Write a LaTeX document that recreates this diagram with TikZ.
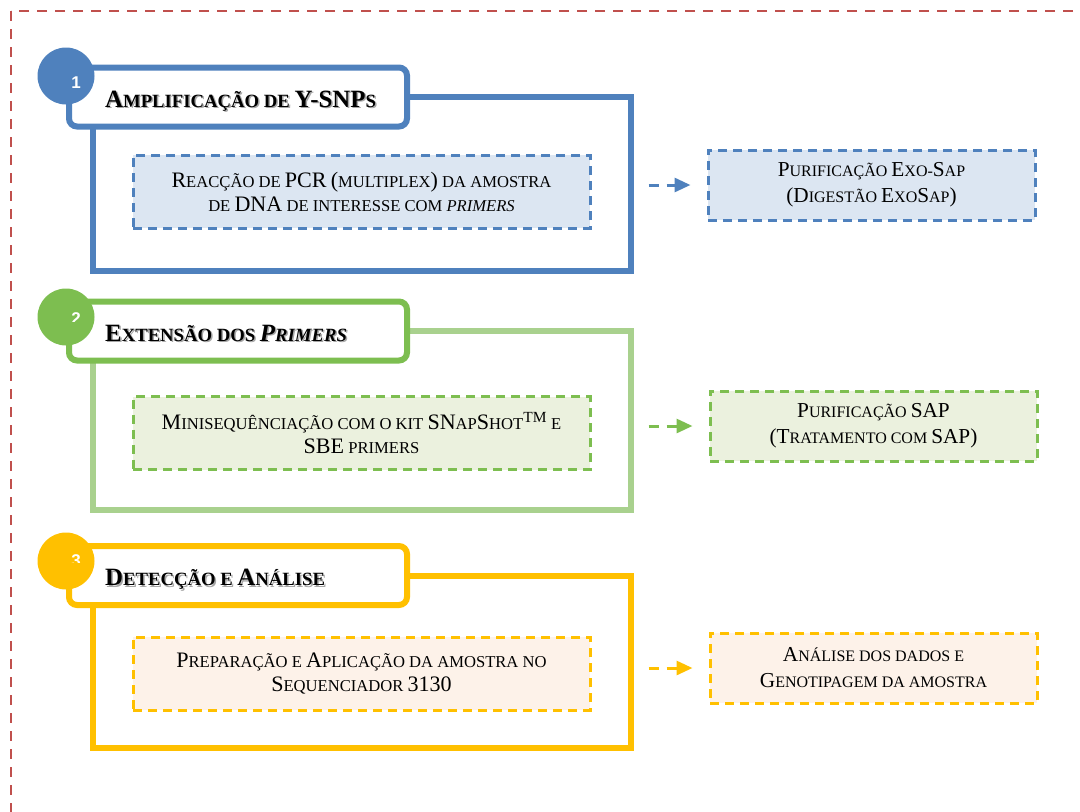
\documentclass[tikz,border=0pt]{standalone}
\usepackage{fontspec}
\setmainfont{Liberation Serif}
\newfontfamily\digitfont{Liberation Sans}
\usetikzlibrary{arrows.meta,positioning,calc}

\definecolor{blueA}{RGB}{79,129,189}
\definecolor{blueF}{RGB}{220,230,242}
\definecolor{greenA}{RGB}{125,190,80}
\definecolor{greenL}{RGB}{169,209,142}
\definecolor{greenF}{RGB}{235,241,222}
\definecolor{yellowA}{RGB}{255,192,0}
\definecolor{yellowF}{RGB}{253,242,233}
\definecolor{redA}{RGB}{192,80,77}

% enlarged capitals for the small-caps look
\makeatletter
\newdimen\capsz
\newcommand{\Cp}[1]{{\capsz=\f@size pt\capsz=1.33\capsz\fontsize{\the\capsz}{\the\capsz}\selectfont #1}}
\makeatother

\begin{document}
\begin{tikzpicture}[x=1pt, y=-1pt,
  titlebox/.style={draw, line width=6pt, rounded corners=8pt, fill=white, minimum width=338pt, minimum height=59pt},
  titletext/.style={font=\bfseries\fontsize{18.7}{20}\selectfont, anchor=base west, inner sep=0pt},
  stepbox/.style={draw, line width=3pt, dash pattern=on 9pt off 6pt, minimum width=457pt, minimum height=73pt, align=center, font=\fontsize{16.6}{24}\selectfont},
  sidebox/.style={stepbox, minimum width=327pt, minimum height=70pt, font=\fontsize{16}{26}\selectfont},
  flow/.style={line width=3pt, dash pattern=on 10pt off 8pt, -{Triangle[length=16pt,width=14pt]}, shorten <=57pt, shorten >=16pt},
  numdot/.style={circle, minimum size=57pt, inner sep=0pt},
  numtext/.style={white, font=\digitfont\bfseries\fontsize{17}{17}\selectfont}
]
\useasboundingbox (0,0) rectangle (1080,812);
\begin{scope}
  \clip (0,0) rectangle (1080,812);
  \draw[redA, line width=2pt, dash pattern=on 10pt off 8pt] (11,11) rectangle (1100,830);
\end{scope}

% the three stages
\foreach \i/\cy/\dy/\ty/\fb/\col/\fcol/\clipy/\ttl in {
  1/76/83/97/271/blueA/blueA/200/{\Cp{A}MPLIFICAÇÃO DE \Cp{Y-SNP}S},
  2/317/319/331/510/greenA/greenL/321/{\Cp{E}XTENSÃO DOS \textit{\Cp{P}RIMERS}},
  3/561/561/575.5/748/yellowA/yellowA/562/{\Cp{D}ETECÇÃO E \Cp{A}NÁLISE}} {
  \draw[line width=6pt, \fcol] (93,\ty) rectangle (631,\fb);
  \node[titlebox, draw=\col] (tb\i) at (238,\ty) {};
  \node[titletext, black!35] at ([xshift=40.5pt,yshift=-11.5pt]tb\i.west) {\ttl};
  \node[titletext] at ([xshift=39pt,yshift=-10pt]tb\i.west) {\ttl};
  \node[numdot, fill=\col] (c\i) at (66,\cy) {};
  \begin{scope}
    \clip (30,\cy-40) rectangle (110,\clipy);
    \node[numtext] at (76,\dy) {\i};
  \end{scope}
}

% stage boxes
\node[stepbox, draw=blueA, fill=blueF] (pcr) at (361.5,191.5)
  {\Cp{R}EACÇÃO DE \Cp{PCR} \Cp{(}MULTIPLEX\Cp{)} DA AMOSTRA\\DE \Cp{DNA} DE INTERESSE COM \textit{PRIMERS}};
\node[sidebox, draw=blueA, fill=blueF] (exo) at (871.5,185)
  {\Cp{P}URIFICAÇÃO \Cp{E}XO-\Cp{S}AP\\\Cp{(D}IGESTÃO \Cp{E}XO\Cp{S}AP\Cp{)}};

\node[stepbox, draw=greenA, fill=greenF] (mini) at (361.5,433)
  {\Cp{M}INISEQUÊNCIAÇÃO COM O KIT \Cp{SN}AP\Cp{S}HOT\Cp{\textsuperscript{TM}} E\\\Cp{SBE} PRIMERS};
\node[sidebox, draw=greenA, fill=greenF] (sap) at (873.5,426)
  {\Cp{P}URIFICAÇÃO \Cp{SAP}\\\Cp{(T}RATAMENTO COM \Cp{SAP)}};

\node[stepbox, draw=yellowA, fill=yellowF] (prep) at (361.5,673.5)
  {\Cp{P}REPARAÇÃO E \Cp{A}PLICAÇÃO DA AMOSTRA NO\\\Cp{S}EQUENCIADOR \Cp{3130}};
\node[sidebox, draw=yellowA, fill=yellowF] (anal) at (873.5,668)
  {\Cp{A}NÁLISE DOS DADOS E\\\Cp{G}ENOTIPAGEM DA AMOSTRA};

% links to the purification steps
\draw[flow, blueA] (pcr.east |- exo.west) -- (exo.west);
\draw[flow, greenA] (mini.east |- sap.west) -- (sap.west);
\draw[flow, yellowA] (prep.east |- anal.west) -- (anal.west);
\end{tikzpicture}
\end{document}
